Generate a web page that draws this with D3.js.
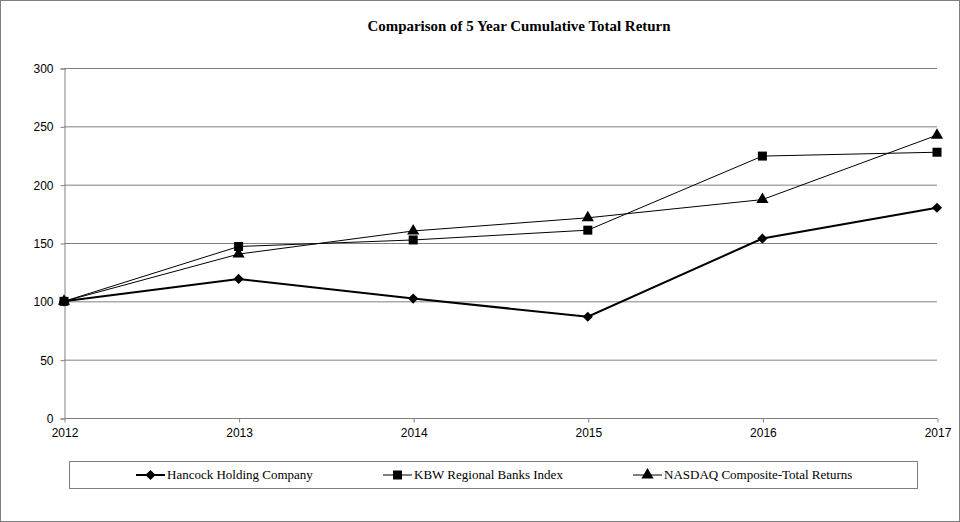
<!DOCTYPE html>
<html><head><meta charset="utf-8">
<script src="https://cdn.jsdelivr.net/npm/d3@7/dist/d3.min.js"></script>
<style>body{margin:0;background:#fff}svg{display:block}</style>
</head><body>
<svg id="c" width="960" height="522"></svg>
<script>
const years = ["2012","2013","2014","2015","2016","2017"];
const hancock = [100, 119.2, 102.4, 86.8, 153.8, 180.2];
const kbw = [100, 147.0, 152.6, 161.0, 224.5, 227.8];
const nasdaq = [100, 140.5, 160.3, 171.6, 187.2, 242.4];
const yTicks = [0, 50, 100, 150, 200, 250, 300];
const seriesNames = ["Hancock Holding Company", "KBW Regional Banks Index", "NASDAQ Composite-Total Returns"];
const title = "Comparison of 5 Year Cumulative Total Return";

const svg = d3.select("#c");
svg.append("rect").attr("x",0.5).attr("y",0.5).attr("width",959).attr("height",521)
  .attr("fill","#fff").attr("stroke","#808080");

const x = d3.scalePoint().domain(years).range([64, 937]);
const y = d3.scaleLinear().domain([0, 300]).range([418, 68]);

svg.append("text").attr("x", 519).attr("y", 31).attr("text-anchor","middle")
  .attr("font-family","'Liberation Serif', 'Times New Roman', serif").attr("font-weight","bold")
  .attr("font-size", 14).attr("textLength", 303).attr("lengthAdjust","spacingAndGlyphs").text(title);

// gridlines
svg.append("g").selectAll("line").data(yTicks.filter(d=>d>0)).join("line")
  .attr("x1", 64).attr("x2", 937).attr("y1", d=>y(d)+0.5).attr("y2", d=>y(d)+0.5)
  .attr("stroke","#808080").attr("stroke-width",1);

const fontAx = "'Liberation Sans', Arial, sans-serif";
const yAxis = svg.append("g").attr("transform","translate(64.5,0.5)")
  .call(d3.axisLeft(y).tickValues(yTicks).tickSize(4).tickPadding(7));
const xAxis = svg.append("g").attr("transform","translate(0.5,418.5)")
  .call(d3.axisBottom(x).tickSize(4).tickPadding(6));
[yAxis, xAxis].forEach(g => {
  g.selectAll("path,line").attr("stroke","#808080");
  g.selectAll("text").attr("font-family", fontAx).attr("font-size", 12).attr("fill","#000");
});
xAxis.select(".domain").attr("d", "M64,0H937");

const series = [
  {vals: hancock, w: 2, sym: d3.symbolSquare, size: 52, rot: 45},
  {vals: kbw, w: 1, sym: d3.symbolSquare, size: 81, rot: 0},
  {vals: nasdaq, w: 1, sym: d3.symbolTriangle, size: 64, rot: 0}
];
const line = d3.line().x((d,i)=>x(years[i])).y(d=>y(d));
series.slice().reverse().forEach(s => {
  svg.append("path").attr("d", line(s.vals)).attr("fill","none")
    .attr("stroke","#000").attr("stroke-width", s.w);
});
series.forEach(s => {
  svg.append("g").selectAll("path").data(s.vals).join("path")
    .attr("transform",(d,i)=>`translate(${x(years[i])},${y(d)}) rotate(${s.rot})`)
    .attr("d", d3.symbol().type(s.sym).size(s.size)).attr("fill","#000");
});

// legend
svg.append("rect").attr("x",69.5).attr("y",461.5).attr("width",848).attr("height",27)
  .attr("fill","#fff").attr("stroke","#808080");
const legX = [136, 383, 633];
series.forEach((s, i) => {
  const g = svg.append("g").attr("transform", `translate(${legX[i]},475)`);
  g.append("line").attr("x1",0).attr("x2",29).attr("stroke","#000").attr("stroke-width", s.w);
  g.append("path").attr("transform",`translate(14.5,0) rotate(${s.rot})`)
    .attr("d", d3.symbol().type(s.sym).size(s.size)).attr("fill","#000");
  g.append("text").attr("x", 31).attr("y", 4).attr("font-family","'Liberation Serif', 'Times New Roman', serif")
    .attr("font-size", 13).text(seriesNames[i]);
});
</script>
</body></html>
